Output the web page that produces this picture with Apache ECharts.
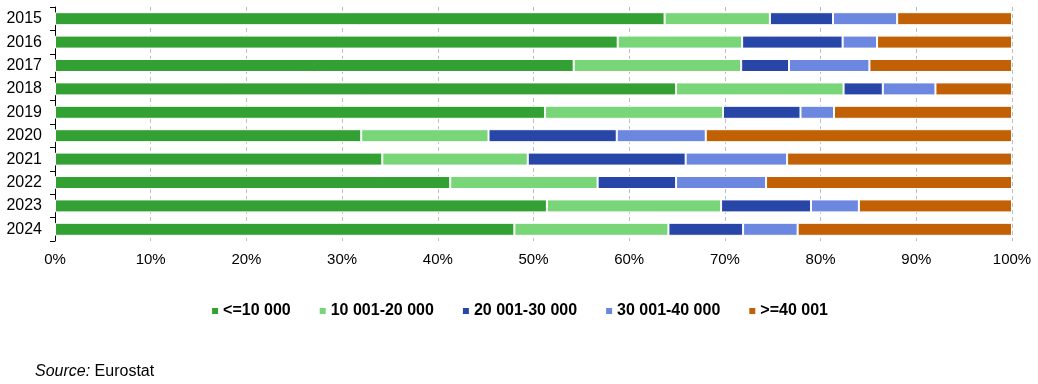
<!DOCTYPE html>
<html>
<head>
<meta charset="utf-8">
<script src="https://cdn.jsdelivr.net/npm/echarts@6/dist/echarts.min.js"></script>
<style>
html,body{margin:0;padding:0;background:#fff;}
#chart{width:1038px;height:384px;position:relative;}
#src{position:absolute;left:35px;top:362px;font-family:"Liberation Sans",Arial,sans-serif;font-size:16px;color:#000;}
</style>
</head>
<body>
<div id="chart"></div>
<div id="src"><i>Source:</i> Eurostat</div>
<script>
const years = ['2015','2016','2017','2018','2019','2020','2021','2022','2023','2024'];
const seriesNames = ['<=10 000','10 001-20 000','20 001-30 000','30 001-40 000','>=40 001'];
const s1 = [63.7, 58.8, 54.2, 64.9, 51.2, 32.0, 34.2, 41.3, 51.4, 48.0];
const s2 = [11.0, 13.0, 17.5, 17.5, 18.6, 13.3, 15.2, 15.4, 18.2, 16.1];
const s3 = [6.6, 10.5, 5.0, 4.1, 8.1, 13.4, 16.5, 8.2, 9.4, 7.8];
const s4 = [6.7, 3.6, 8.4, 5.5, 3.5, 9.3, 10.6, 9.4, 5.0, 5.7];
const s5 = [12.0, 14.1, 14.9, 8.0, 18.6, 32.0, 23.5, 25.7, 16.0, 22.4];
const xTicks = [0,10,20,30,40,50,60,70,80,90,100];
const colors = ['#33A033','#78D578','#2846A8','#6B87DF','#C26005'];
const allData = [s1,s2,s3,s4,s5];

const font = '"Liberation Sans", Arial, sans-serif';
const chart = echarts.init(document.getElementById('chart'));
chart.setOption({
  animation:false,
  color: colors,
  grid:{left:55, right:26, top:7, bottom:143, containLabel:false},
  legend:{
    top:298, left:'center',
    itemWidth:8, itemHeight:8, itemGap:27,
    icon:'rect',
    textStyle:{fontFamily:font, fontSize:16, fontWeight:'bold', color:'#000', padding:[0,0,0,-1]},
    data: seriesNames
  },
  xAxis:{
    type:'value', min:0, max:100, interval:10,
    axisLabel:{formatter:'{value}%', fontFamily:font, fontSize:15, color:'#000', margin:11},
    axisLine:{show:false}, axisTick:{show:false},
    splitLine:{show:true, lineStyle:{color:'#bfbfbf', type:[4,3], width:1}}
  },
  yAxis:{
    type:'category', data:years, inverse:true,
    axisLine:{show:true, lineStyle:{color:'#000', width:1}},
    axisTick:{show:true, length:5, lineStyle:{color:'#000'}},
    axisLabel:{fontFamily:font, fontSize:16, color:'#000', margin:13}
  },
  series: seriesNames.map((n,i)=>({
    name:n, type:'bar', stack:'total', data:allData[i],
    barWidth:13,
    itemStyle:{color:colors[i], borderColor:'#fff', borderWidth:1}
  }))
});
</script>
</body>
</html>
